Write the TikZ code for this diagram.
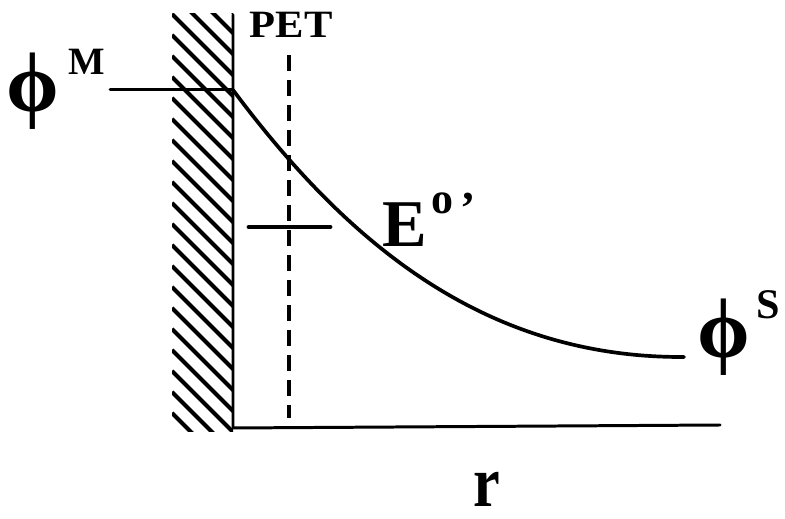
\documentclass[tikz,border=0pt]{standalone}
\usepackage{fontspec}
\setmainfont{Liberation Serif}
\usetikzlibrary{positioning}

\tikzset{
  axisline/.style={line width=0.85pt, line cap=round},
  curveline/.style={line width=1.05pt, line cap=round},
  hatchline/.style={line width=1.15pt},
  petline/.style={line width=0.9pt, dash pattern=on 0.16cm off 0.09cm},
  levelline/.style={line width=1.4pt, line cap=round},
  bigsym/.style={inner sep=0pt, font=\fontsize{24}{24}\selectfont\bfseries},
  supsym/.style={inner sep=0pt, font=\fontsize{11}{11}\selectfont\bfseries}
}

\newcommand{\phisym}{\symbol{"03D5}}

\begin{document}
\begin{tikzpicture}[x=0.01cm, y=-0.01cm]
    \useasboundingbox (0,0) rectangle (785,519);

    % Electrode (hatched)
    \begin{scope}
        \clip (172,14) rectangle (233,432);
        \foreach \y in {-70,-49,...,440}
            \draw[hatchline] (172,\y) -- ++(80,80);
    \end{scope}

    % Wall and r axis
    \coordinate (walltop) at (233,15);
    \coordinate (wallbot) at (233,428);
    \coordinate (axisend) at (720,425);
    \draw[axisline] (walltop) -- (wallbot) -- (axisend);

    % Metal potential and decay into solution
    \coordinate (mstart) at (110,90);
    \coordinate (surf) at (233,90);
    \coordinate (send) at (684,357);
    \draw[axisline] (mstart) -- (surf);
    \draw[curveline] (surf) .. controls (345,240) and (482,358) .. (send);

    % Plane of electron transfer
    \coordinate (pettop) at (289,55);
    \coordinate (petbot) at (289,418);
    \draw[petline] (pettop) -- (petbot);

    % Formal potential level
    \coordinate (eleft) at (249,227);
    \coordinate (eright) at (330,227);
    \draw[levelline] (eleft) -- (eright);

    % Labels
    \node[bigsym] (phiM) at (33,91) {\phisym};
    \node[supsym] (supM) at (87,62) {M};
    \node[inner sep=0pt, font=\fontsize{11}{11}\selectfont\bfseries] (pet) at (291,25)
        {\scalebox{1.1}[1]{PET}};
    \node[inner sep=0pt, font=\fontsize{19}{19}\selectfont\bfseries,
          anchor=base west] (elabel) at (382,247) {E};
    \node[inner sep=0pt, font=\fontsize{12.5}{12.5}\selectfont\bfseries,
          anchor=north west] (edeg) at (431,192) {o};
    \node[inner sep=0pt, font=\fontsize{13}{13}\selectfont\bfseries,
          right=1.5pt of edeg.north east, anchor=north west]
          (eprime) {\symbol{39}};
    \node[bigsym] (phiS) at (724,337) {\phisym};
    \node[inner sep=0pt, font=\fontsize{12}{12}\selectfont\bfseries]
        (supS) at (768,305) {S};
    \node[inner sep=0pt, font=\fontsize{19}{19}\selectfont\bfseries]
        (rlabel) at (487,489) {\scalebox{0.9}[1.08]{r}};
\end{tikzpicture}
\end{document}
